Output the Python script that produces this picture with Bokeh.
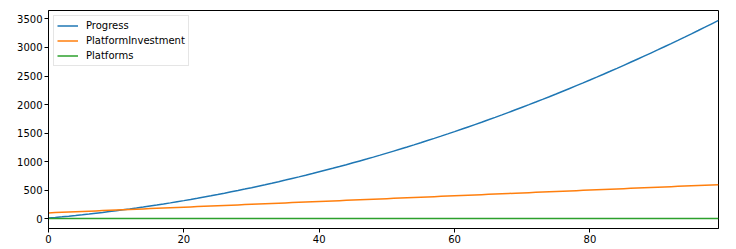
from bokeh.plotting import figure
from bokeh.models import FixedTicker, Range1d, Legend, LegendItem
from bokeh.embed import file_html
from bokeh.resources import INLINE

steps = list(range(100))

progress = [
    10, 20.5, 31.5, 43, 55, 67.5, 80.5, 94, 108, 122.5,
    137.5, 153, 169, 185.5, 202.5, 220, 238, 256.5, 275.5, 295,
    315, 335.5, 356.5, 378, 400, 422.5, 445.5, 469, 493, 517.5,
    542.5, 568, 594, 620.5, 647.5, 675, 703, 731.5, 760.5, 790,
    820, 850.5, 881.5, 913, 945, 977.5, 1010.5, 1044, 1078, 1112.5,
    1147.5, 1183, 1219, 1255.5, 1292.5, 1330, 1368, 1406.5, 1445.5, 1485,
    1525, 1565.5, 1606.5, 1648, 1690, 1732.5, 1775.5, 1819, 1863, 1907.5,
    1952.5, 1998, 2044, 2090.5, 2137.5, 2185, 2233, 2281.5, 2330.5, 2380,
    2430, 2480.5, 2531.5, 2583, 2635, 2687.5, 2740.5, 2794, 2848, 2902.5,
    2957.5, 3013, 3069, 3125.5, 3182.5, 3240, 3298, 3356.5, 3415.5, 3475,
]

platform_investment = [
    100, 105, 110, 115, 120, 125, 130, 135, 140, 145,
    150, 155, 160, 165, 170, 175, 180, 185, 190, 195,
    200, 205, 210, 215, 220, 225, 230, 235, 240, 245,
    250, 255, 260, 265, 270, 275, 280, 285, 290, 295,
    300, 305, 310, 315, 320, 325, 330, 335, 340, 345,
    350, 355, 360, 365, 370, 375, 380, 385, 390, 395,
    400, 405, 410, 415, 420, 425, 430, 435, 440, 445,
    450, 455, 460, 465, 470, 475, 480, 485, 490, 495,
    500, 505, 510, 515, 520, 525, 530, 535, 540, 545,
    550, 555, 560, 565, 570, 575, 580, 585, 590, 595,
]

platforms = [
    0, 0, 0, 0, 0, 0, 0, 0, 0, 0,
    0, 0, 0, 0, 0, 0, 0, 0, 0, 0,
    0, 0, 0, 0, 0, 0, 0, 0, 0, 0,
    0, 0, 0, 0, 0, 0, 0, 0, 0, 0,
    0, 0, 0, 0, 0, 0, 0, 0, 0, 0,
    0, 0, 0, 0, 0, 0, 0, 0, 0, 0,
    0, 0, 0, 0, 0, 0, 0, 0, 0, 0,
    0, 0, 0, 0, 0, 0, 0, 0, 0, 0,
    0, 0, 0, 0, 0, 0, 0, 0, 0, 0,
    0, 0, 0, 0, 0, 0, 0, 0, 0, 0,
]

series_names = ["Progress", "PlatformInvestment", "Platforms"]
series_colors = ["#1f77b4", "#ff7f0e", "#2ca02c"]
x_ticks = [0, 20, 40, 60, 80]
y_ticks = [0, 500, 1000, 1500, 2000, 2500, 3000, 3500]

p = figure(
    width=736, height=249,
    output_backend="svg", toolbar_location=None,
    x_range=Range1d(0, 99), y_range=Range1d(-173.75, 3648.75),
    min_border_left=48, min_border_right=18, min_border_top=10, min_border_bottom=21,
)
p.background_fill_color = "white"
p.border_fill_color = "white"
p.outline_line_color = "#000000"
p.outline_line_width = 1
p.grid.visible = False

renderers = []
for vals, name, col in zip([progress, platform_investment, platforms], series_names, series_colors):
    r = p.line(steps, vals, line_color=col, line_width=1.5)
    renderers.append((name, r))

for ax in (p.xaxis[0], p.yaxis[0]):
    ax.major_label_text_font = "DejaVu Sans"
    ax.major_label_text_font_size = "10px"
    ax.major_label_text_color = "#000000"
    ax.axis_line_color = "#000000"
    ax.major_tick_line_color = "#000000"
    ax.major_tick_out = 4
    ax.major_tick_in = 0
    ax.minor_tick_out = 0
    ax.minor_tick_in = 0
    ax.major_label_standoff = 2

p.xaxis[0].ticker = FixedTicker(ticks=x_ticks)
p.yaxis[0].ticker = FixedTicker(ticks=y_ticks)

legend = Legend(
    items=[LegendItem(label=n, renderers=[r]) for n, r in renderers],
    location="top_left",
    label_text_font="DejaVu Sans",
    label_text_font_size="10px",
    label_text_color="#000000",
    glyph_width=21, glyph_height=13, label_height=13,
    label_standoff=8, spacing=2, padding=3, margin=5,
    border_line_color="#cccccc", border_line_width=1,
    background_fill_color="white", background_fill_alpha=0.8,
)
p.add_layout(legend)

open("out.html", "w").write(file_html(p, INLINE))
